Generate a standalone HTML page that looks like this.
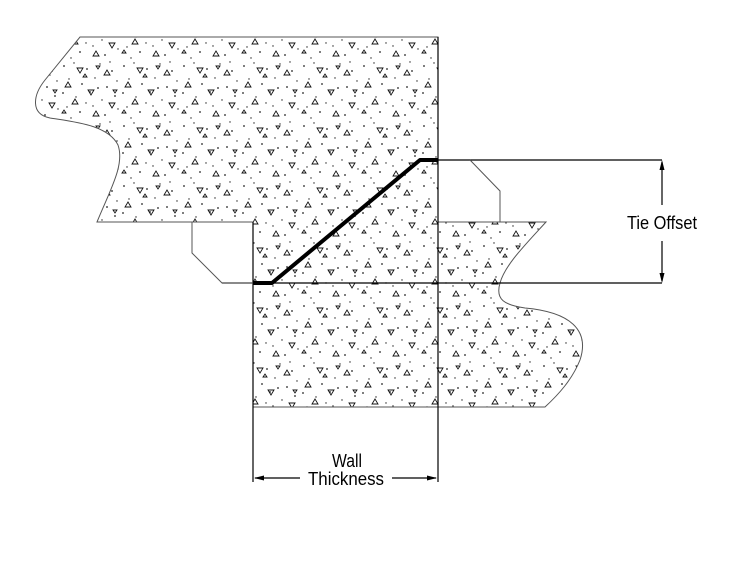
<!DOCTYPE html>
<html><head><meta charset="utf-8"><style>
html,body{margin:0;padding:0;background:#fff;}
svg{display:block;}
text{font-family:"Liberation Sans",sans-serif;font-size:18px;fill:#000;}
</style></head><body>
<svg width="741" height="571" viewBox="0 0 741 571" xmlns="http://www.w3.org/2000/svg">
<defs>
<pattern id="c" width="60" height="60" patternUnits="userSpaceOnUse">
<g fill="#222">
<circle cx="4" cy="6" r="0.9"/><circle cx="14" cy="3" r="0.7"/><circle cx="27" cy="9" r="0.9"/><circle cx="40" cy="4" r="0.7"/><circle cx="52" cy="11" r="0.9"/>
<circle cx="9" cy="19" r="0.7"/><circle cx="22" cy="24" r="0.9"/><circle cx="35" cy="18" r="0.7"/><circle cx="47" cy="27" r="0.9"/><circle cx="57" cy="21" r="0.7"/>
<circle cx="3" cy="33" r="0.9"/><circle cx="16" cy="37" r="0.7"/><circle cx="30" cy="32" r="0.9"/><circle cx="42" cy="40" r="0.7"/><circle cx="55" cy="36" r="0.9"/>
<circle cx="7" cy="47" r="0.7"/><circle cx="20" cy="52" r="0.9"/><circle cx="33" cy="46" r="0.7"/><circle cx="45" cy="55" r="0.9"/><circle cx="58" cy="49" r="0.7"/>
<circle cx="11" cy="58" r="0.7"/><circle cx="26" cy="43" r="0.7"/><circle cx="38" cy="28" r="0.9"/><circle cx="50" cy="2" r="0.7"/>
</g>
<g fill="none" stroke="#111" stroke-width="0.9">
<path d="M17,8 l6,0 l-3,5z"/><path d="M44,15 l6,0 l-3,-5z"/><path d="M5,27 l6,0 l-3,-5z"/><path d="M28,30 l6,0 l-3,5z"/>
<path d="M49,43 l6,0 l-3,5z"/><path d="M12,44 l6,0 l-3,-5z"/><path d="M33,56 l6,0 l-3,-5z"/><path d="M53,30 l4,0 l-2,3z"/>
<path d="M36,6 l4,0 l-2,3z"/><path d="M2,53 l4,0 l-2,-3z"/><path d="M23,17 l4,0 l-2,-3z"/>
</g>
</pattern>
</defs>
<g fill="url(#c)" stroke="#555" stroke-width="1">
<path d="M80,37 L438,37 L438,283 L253,283 L253,222 L97,222 C110,190 125,165 118,145 C108,125 75,122 50,118 C30,114 33,95 45,80 Z"/>
<path d="M438,222 L546,222 C525,245 505,265 500,283 L438,283 Z"/>
<path d="M253,283 L500,283 C495,300 505,305 525,308 C570,312 590,330 580,360 C572,380 558,395 545,407 L253,407 Z"/>
</g>
<g fill="none" stroke="#000" stroke-width="1.2">
<path d="M438,37 L438,283 M253,222 L253,407 M438,283 L438,482 M253,407 L253,482"/>
<path d="M222,283 L662,283 M438,160 L662,160"/>
<path d="M662,162 L662,205 M662,241 L662,281"/>
<path d="M255,478 L300,478 M392,478 L436,478"/>
</g>
<g fill="none" stroke="#555" stroke-width="1">
<path d="M192,222 L192,253 L222,283 L253,283"/>
<path d="M470,160 L500,191 L500,222"/>
</g>
<g fill="#000">
<path d="M662,160 l-2.5,10 l5,0z"/><path d="M662,283 l-2.5,-10 l5,0z"/>
<path d="M254,478 l10,-2.5 l0,5z"/><path d="M437,478 l-10,-2.5 l0,5z"/>
</g>
<path d="M253,283 L272,283 L420,160 L438,160" fill="none" stroke="#000" stroke-width="4" stroke-linejoin="round"/>
<text x="627" y="229" textLength="70" lengthAdjust="spacingAndGlyphs">Tie Offset</text>
<text x="332" y="467" textLength="30" lengthAdjust="spacingAndGlyphs">Wall</text>
<text x="308" y="485" textLength="76" lengthAdjust="spacingAndGlyphs">Thickness</text>
</svg>
</body></html>
